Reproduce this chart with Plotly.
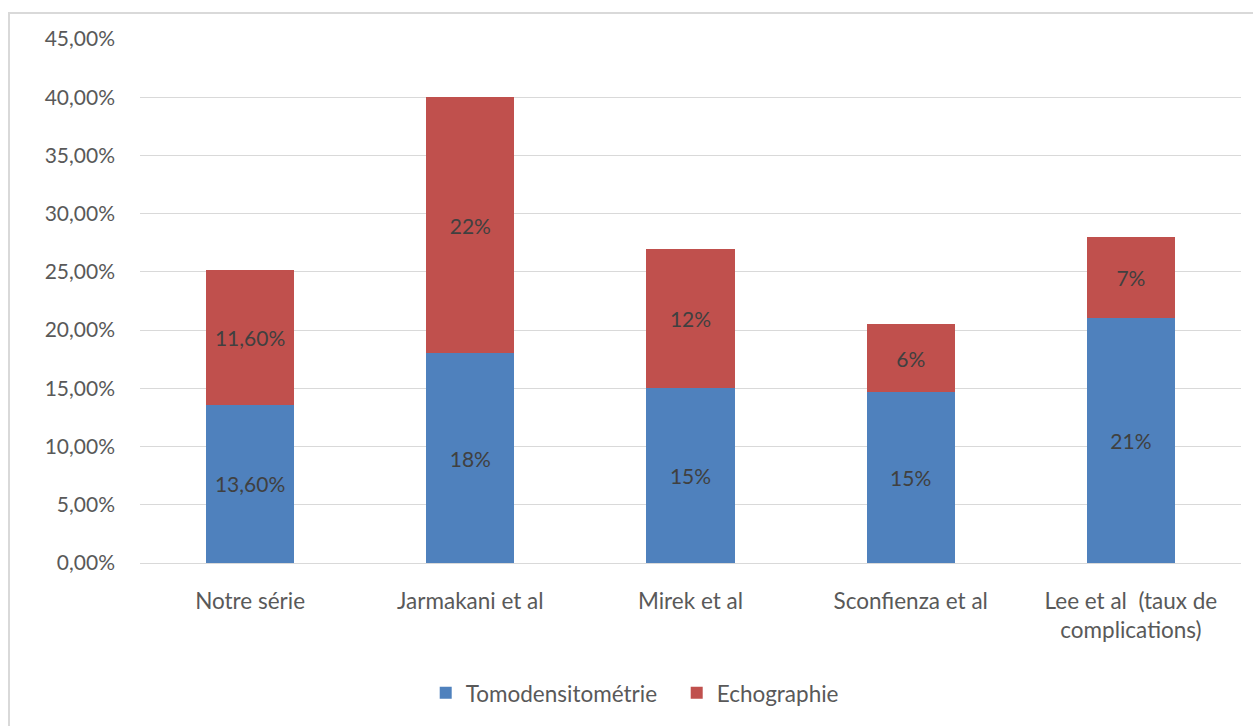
import plotly.graph_objects as go

# Études comparées
categories = ["Notre série", "Jarmakani et al", "Mirek et al", "Sconfienza et al",
              "Lee et al  (taux de<br>complications)"]

# Taux (%) par technique de guidage
tomodensitometrie = [13.6, 18, 15, 14.7, 21]
echographie = [11.6, 22, 12, 5.8, 7]

# Nombre de décimales affichées dans chaque étiquette
decimales = [2, 0, 0, 0, 0]

y_ticks = [0, 5, 10, 15, 20, 25, 30, 35, 40, 45]
y_tick_labels = [f"{v:.2f}%".replace(".", ",") for v in y_ticks]


def etiquettes(valeurs):
    return [f"{v:.{d}f}%".replace(".", ",") for v, d in zip(valeurs, decimales)]


BLUE = "#4F81BD"
RED = "#C0504D"
FONT = "Lato"
SIZE = 21
SIZE_LABELS = 22.5

fig = go.Figure()
fig.add_trace(go.Bar(
    name="Tomodensitométrie", x=categories, y=tomodensitometrie,
    marker=dict(color=BLUE, line=dict(width=0)),
    text=etiquettes(tomodensitometrie), textposition="inside",
    insidetextanchor="middle", textangle=0,
    textfont=dict(family=FONT, size=SIZE, color="#404040"),
))
fig.add_trace(go.Bar(
    name="Echographie", x=categories, y=echographie,
    marker=dict(color=RED, line=dict(width=0)),
    text=etiquettes(echographie), textposition="inside",
    insidetextanchor="middle", textangle=0,
    textfont=dict(family=FONT, size=SIZE, color="#404040"),
))

fig.update_layout(
    barmode="stack",
    bargap=0.6,
    width=1253, height=726,
    margin=dict(l=140, r=12, t=39, b=162),
    paper_bgcolor="white", plot_bgcolor="white",
    font=dict(family=FONT, size=SIZE, color="#595959"),
    uniformtext=dict(minsize=SIZE, mode="show"),
    showlegend=True,
    legend=dict(orientation="h", x=0.2595, xanchor="left", y=-0.246, yanchor="middle",
                font=dict(family=FONT, size=SIZE_LABELS, color="#595959"),
                traceorder="normal", itemwidth=30, entrywidth=206),
    hovermode=False,
    shapes=[dict(type="rect", xref="paper", yref="paper",
                 x0=-0.119, x1=1.02, y0=-0.4, y1=1.0495,
                 line=dict(color="#D9D9D9", width=2), layer="below")],
)
fig.update_xaxes(showgrid=False, showline=False, ticks="", ticklabelstandoff=22,
                 tickfont=dict(family=FONT, size=SIZE_LABELS, color="#595959"))
fig.update_yaxes(range=[0, 45], tickmode="array", tickvals=y_ticks, ticktext=y_tick_labels,
                 showgrid=True, gridcolor="#D9D9D9", gridwidth=1.3,
                 zeroline=True, zerolinecolor="#D9D9D9", zerolinewidth=1.3,
                 showline=False, ticks="", ticklabelstandoff=24,
                 tickfont=dict(family=FONT, size=SIZE, color="#595959"))

fig.write_html("out.html")
